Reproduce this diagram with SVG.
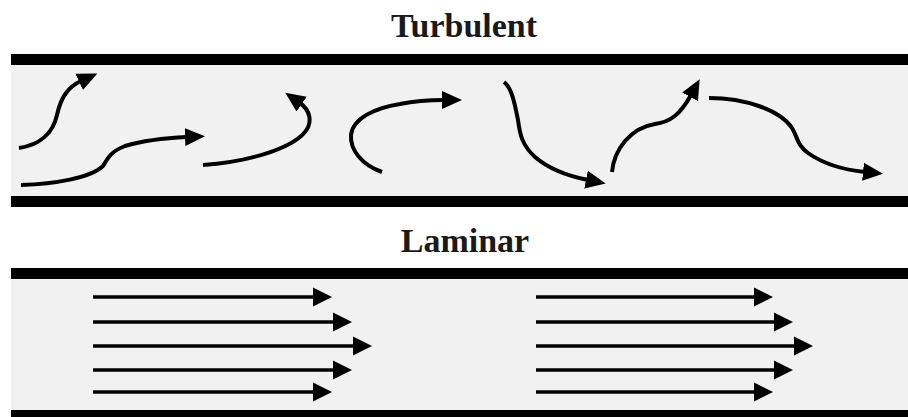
<svg xmlns="http://www.w3.org/2000/svg" width="908" height="417" viewBox="0 0 908 417">
<style>
.title{font-family:"Liberation Serif","Times New Roman",serif;font-weight:700;font-size:34px;fill:#1a1a1a;text-anchor:middle}
.wall{fill:#000}
.pipe{fill:#f1f1f1}
.turb{fill:none;stroke:#000;stroke-width:4;stroke-linecap:butt}
.lam{fill:none;stroke:#000;stroke-width:3.5}
</style>
<defs>
<marker id="headT" viewBox="0 -10 22 20" refX="2" refY="0" markerWidth="22" markerHeight="20" markerUnits="userSpaceOnUse" orient="auto">
<path d="M0,-9 L20,0 L0,9 Z" fill="#000"/>
</marker>
<marker id="headL" viewBox="0 -10 22 20" refX="2" refY="0" markerWidth="22" markerHeight="20" markerUnits="userSpaceOnUse" orient="auto">
<path d="M0,-9.5 L19,0 L0,9.5 Z" fill="#000"/>
</marker>
</defs>
<rect x="0" y="0" width="908" height="417" fill="#fff"/>

<g id="turbulent-pipe">
<rect class="pipe" x="11" y="65" width="897" height="131"/>
<rect class="wall" x="11" y="54" width="897" height="11"/>
<rect class="wall" x="11" y="196" width="897" height="11"/>
<text class="title" x="464" y="37">Turbulent</text>
</g>

<g id="laminar-pipe">
<rect class="pipe" x="11" y="279" width="897" height="131"/>
<rect class="wall" x="11" y="268" width="897" height="11"/>
<rect class="wall" x="11" y="410" width="897" height="7"/>
<text class="title" x="465" y="252">Laminar</text>
</g>

<g id="connectors">
<g id="turbulent-flow">
<path class="turb" marker-end="url(#headT)" d="M19,148 C40,145 53,133 57,115 C61,97 68,87 81,81"/>
<path class="turb" marker-end="url(#headT)" d="M21,185 C55,184 90,178 103,166 C108,158 110,152 125,146 C145,140 165,138 187,137"/>
<path class="turb" marker-end="url(#headT)" d="M203,165 C245,162 290,150 305,132 C313,122 310,110 300,103"/>
<path class="turb" marker-end="url(#headT)" d="M382,172 C362,165 350,150 351,135 C353,118 375,108 400,104 C415,101 430,100 444,100"/>
<path class="turb" marker-end="url(#headT)" d="M504,82 C512,88 515,105 518,120 C520,135 522,145 535,157 C550,170 568,176 588,180"/>
<path class="turb" marker-end="url(#headT)" d="M612,172 C614,150 630,128 655,124 C670,122 680,115 691,95"/>
<path class="turb" marker-end="url(#headT)" d="M709,98 C745,98 780,110 792,128 C798,138 797,145 808,153 C825,165 845,170 865,172"/>
</g>
<g id="laminar-flow">
<path class="lam" marker-end="url(#headL)" d="M93,297 H315"/>
<path class="lam" marker-end="url(#headL)" d="M93,322 H335"/>
<path class="lam" marker-end="url(#headL)" d="M93,346 H355"/>
<path class="lam" marker-end="url(#headL)" d="M93,370 H335"/>
<path class="lam" marker-end="url(#headL)" d="M93,392 H315"/>
<path class="lam" marker-end="url(#headL)" d="M536,297 H756"/>
<path class="lam" marker-end="url(#headL)" d="M536,322 H776"/>
<path class="lam" marker-end="url(#headL)" d="M536,346 H796"/>
<path class="lam" marker-end="url(#headL)" d="M536,370 H776"/>
<path class="lam" marker-end="url(#headL)" d="M536,392 H756"/>
</g>
</g>
</svg>
